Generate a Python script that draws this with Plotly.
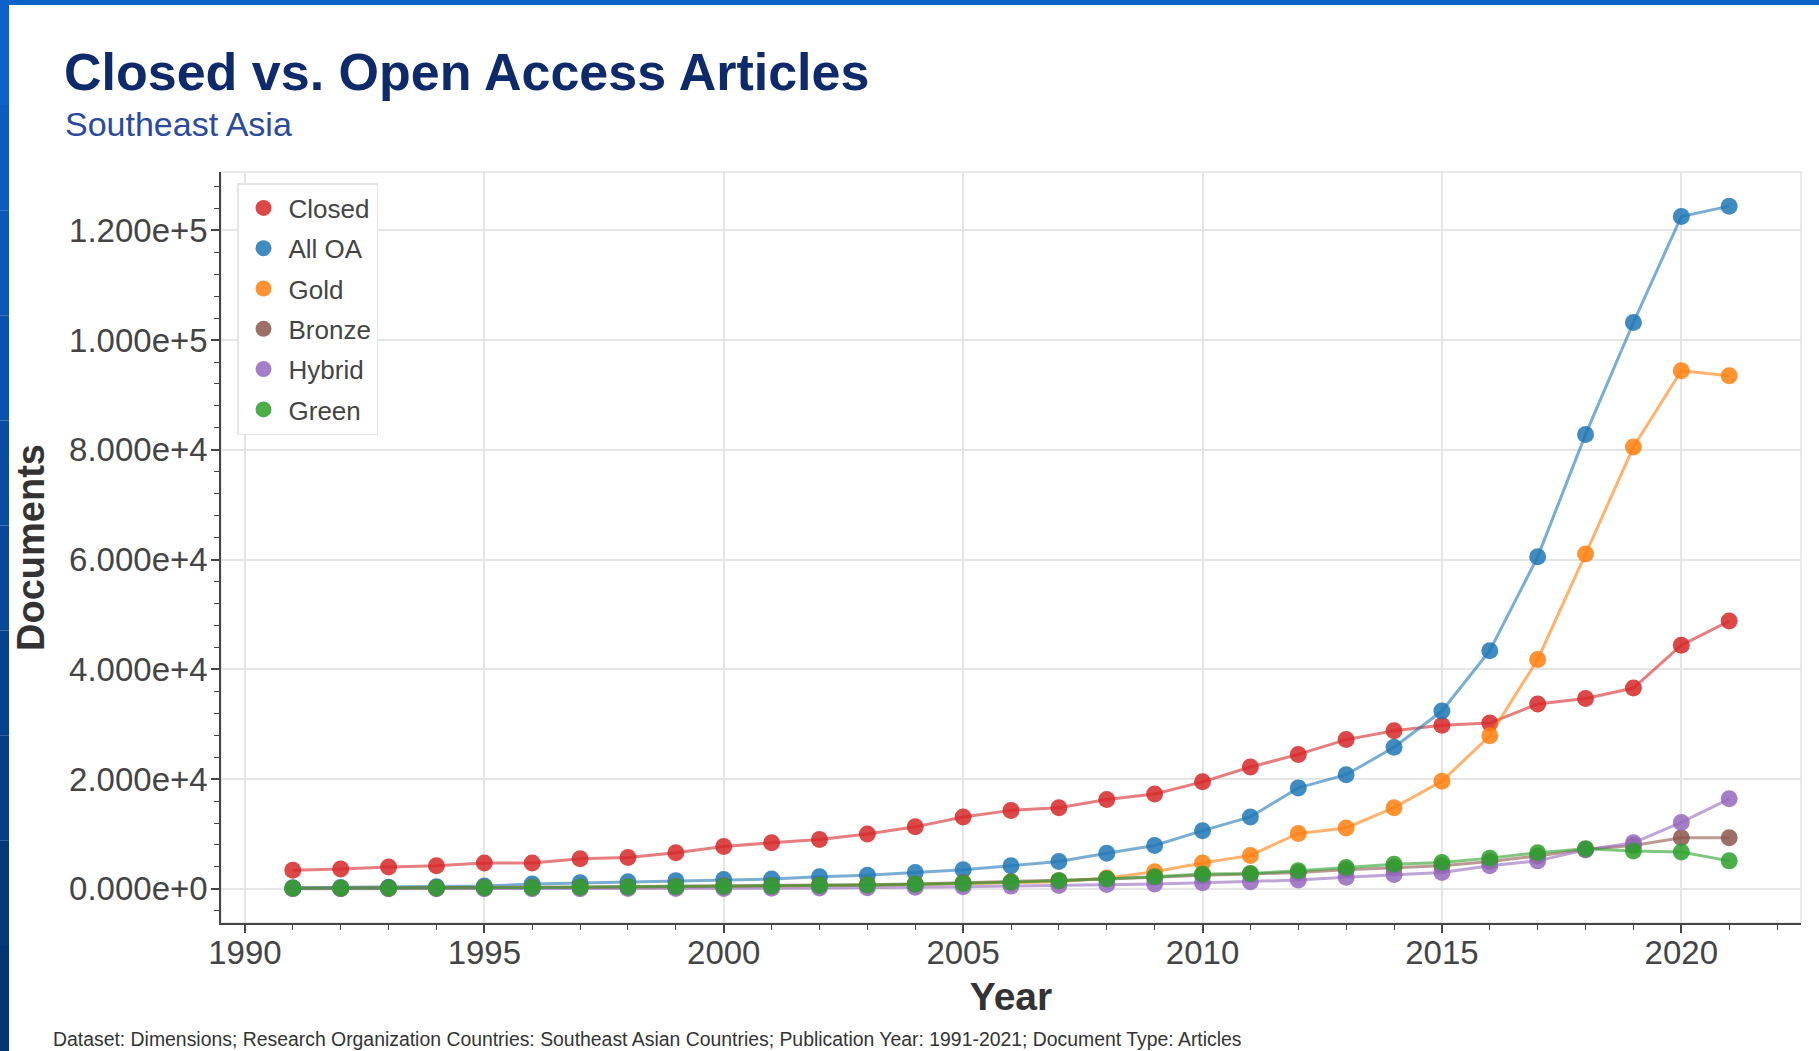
import plotly.graph_objects as go

years = list(range(1991, 2022))

closed = [3400, 3600, 4000, 4200, 4700, 4700, 5500, 5700, 6600, 7700, 8400, 9000, 10000, 11300,
          13100, 14300, 14800, 16300, 17300, 19500, 22200, 24500, 27200, 28800, 29800, 30200,
          33700, 34700, 36600, 44400, 48800]
all_oa = [200, 250, 300, 400, 500, 900, 1100, 1300, 1500, 1700, 1800, 2200, 2500, 3000, 3500,
          4200, 5000, 6500, 7900, 10600, 13100, 18400, 20800, 25800, 32400, 43400, 60500,
          82800, 103200, 122500, 124400]
gold = [50, 60, 80, 100, 150, 200, 250, 300, 350, 400, 450, 550, 650, 800, 950, 1100, 1300,
        2000, 3100, 4700, 6100, 10100, 11100, 14800, 19600, 27900, 41800, 61000, 80500, 94400, 93500]
bronze = [100, 120, 150, 180, 220, 300, 350, 400, 450, 500, 550, 650, 750, 900, 1100, 1300,
          1500, 1800, 2100, 2500, 2700, 3000, 3500, 3900, 4200, 5000, 6000, 7200, 7900, 9300, 9300]
hybrid = [0, 0, 10, 10, 20, 30, 40, 50, 60, 80, 100, 150, 200, 300, 400, 500, 600, 800, 900,
          1100, 1300, 1600, 2100, 2600, 3000, 4200, 5100, 7100, 8400, 12100, 16400]
green = [100, 100, 120, 150, 200, 250, 300, 350, 400, 450, 500, 600, 700, 850, 1000, 1200, 1500,
         1800, 2200, 2700, 2800, 3300, 3900, 4500, 4800, 5600, 6600, 7300, 6900, 6700, 5100]

series_names = ["Closed", "All OA", "Gold", "Bronze", "Hybrid", "Green"]
series_values = [closed, all_oa, gold, bronze, hybrid, green]
series_colors = ["#d62728", "#1f77b4", "#ff7f0e", "#8c564b", "#9467bd", "#2ca02c"]

title_text = "Closed vs. Open Access Articles"
subtitle_text = "Southeast Asia"
x_title = "Year"
y_title = "Documents"
footer_text = ("Dataset: Dimensions; Research Organization Countries: Southeast Asian Countries; "
               "Publication Year: 1991-2021; Document Type: Articles")

W, H = 1819, 1051
ML, MR, MT, MB = 221, 18, 172, 128
PW, PH = W - ML - MR, H - MT - MB


def px_x(p):
    return (p - ML) / PW


def px_y(p):
    return 1 - (p - MT) / PH


def rgba(hexc, a):
    h = hexc.lstrip("#")
    return "rgba(%d,%d,%d,%.2f)" % (int(h[0:2], 16), int(h[2:4], 16), int(h[4:6], 16), a)


fig = go.Figure()
for name, vals, col in zip(series_names, series_values, series_colors):
    fig.add_trace(go.Scatter(x=years, y=vals, mode="lines", name=name, legendgroup=name,
                             showlegend=False, line=dict(color=rgba(col, 0.6), width=3),
                             hoverinfo="skip"))
    fig.add_trace(go.Scatter(x=years, y=vals, mode="markers", name=name, legendgroup=name,
                             marker=dict(color=rgba(col, 0.85), size=17, line=dict(width=0))))

all_vals = [v for s in series_values for v in s]
ymin, ymax = min(all_vals), max(all_vals)
ypad = 0.05 * (ymax - ymin)
xpad = 0.05 * (max(years) - min(years))

axis_color = "#444444"
font_family = "Liberation Sans, Arial, Helvetica, sans-serif"

shapes = []
# plot frame outline
shapes.append(dict(type="rect", xref="paper", yref="paper", x0=0, x1=1, y0=0, y1=1,
                   line=dict(color="#e5e5e5", width=1.5), layer="below"))
# top blue bar
shapes.append(dict(type="rect", xref="paper", yref="paper", x0=px_x(0), x1=px_x(W),
                   y0=px_y(0), y1=px_y(5), fillcolor="#0a64c8", line=dict(width=0), layer="above"))
# left blue bar (stepped gradient)
steps = 10
top_c = (12, 98, 200)
bot_c = (3, 52, 115)
for i in range(steps):
    t = i / (steps - 1)
    c = tuple(int(top_c[k] + (bot_c[k] - top_c[k]) * t) for k in range(3))
    shapes.append(dict(type="rect", xref="paper", yref="paper", x0=px_x(0), x1=px_x(9),
                       y0=px_y(H * i / steps), y1=px_y(H * (i + 1) / steps),
                       fillcolor="rgb(%d,%d,%d)" % c, line=dict(width=0), layer="above"))

fig.update_layout(
    width=W, height=H,
    margin=dict(l=ML, r=MR, t=MT, b=MB, autoexpand=False),
    paper_bgcolor="white", plot_bgcolor="white",
    font=dict(family=font_family, color=axis_color),
    title=dict(text="<b>" + title_text + "</b>", xref="container", yref="container",
               x=64 / W, xanchor="left", y=1 - 72 / H, yanchor="middle",
               font=dict(size=52, color="#0f2a6b", family=font_family)),
    xaxis=dict(range=[min(years) - xpad, max(years) + xpad], tick0=1990, dtick=5,
               showgrid=True, gridcolor="#e5e5e5", gridwidth=1.5, zeroline=False,
               showline=True, linecolor=axis_color, linewidth=1.5,
               ticks="outside", ticklen=8, tickwidth=1.5, tickcolor=axis_color,
               tickfont=dict(size=33, color=axis_color), ticklabelstandoff=-8,
               minor=dict(dtick=1, ticks="outside", ticklen=5, tickwidth=1.2,
                          tickcolor=axis_color, showgrid=False),
               title=dict(text="<b>" + x_title + "</b>", font=dict(size=39, color="#333333"),
                          standoff=12)),
    yaxis=dict(range=[ymin - ypad, ymax + ypad], tick0=0, dtick=20000, tickformat=".3e",
               showgrid=True, gridcolor="#e5e5e5", gridwidth=1.5, zeroline=False,
               showline=True, linecolor=axis_color, linewidth=1.5,
               ticks="outside", ticklen=8, tickwidth=1.5, tickcolor=axis_color,
               tickfont=dict(size=33, color=axis_color), ticklabelstandoff=-3,
               minor=dict(dtick=4000, ticks="outside", ticklen=5, tickwidth=1.2,
                          tickcolor=axis_color, showgrid=False),
               title=dict(text="<b>" + y_title + "</b>", font=dict(size=38, color="#333333"),
                          standoff=13)),
    legend=dict(x=px_x(237), y=px_y(183), xanchor="left", yanchor="top",
                bgcolor="rgba(255,255,255,0.95)", bordercolor="#e5e5e5", borderwidth=1.5,
                font=dict(size=26, color=axis_color), tracegroupgap=3.5, itemwidth=40,
                traceorder="grouped"),
    shapes=shapes,
    annotations=[
        dict(text=subtitle_text, xref="paper", yref="paper", x=px_x(63), y=px_y(124),
             xanchor="left", yanchor="middle", showarrow=False,
             font=dict(size=34, color="#2b4a9c", family=font_family)),
        dict(text=footer_text, xref="paper", yref="paper", x=px_x(51), y=px_y(1039),
             xanchor="left", yanchor="middle", showarrow=False,
             font=dict(size=19.4, color="#333333", family=font_family)),
    ],
)

fig.write_html("out.html", config={"displayModeBar": False},
               post_script="document.body.style.margin='0px';document.body.style.padding='0px';"
                           "document.body.style.overflow='hidden';")
